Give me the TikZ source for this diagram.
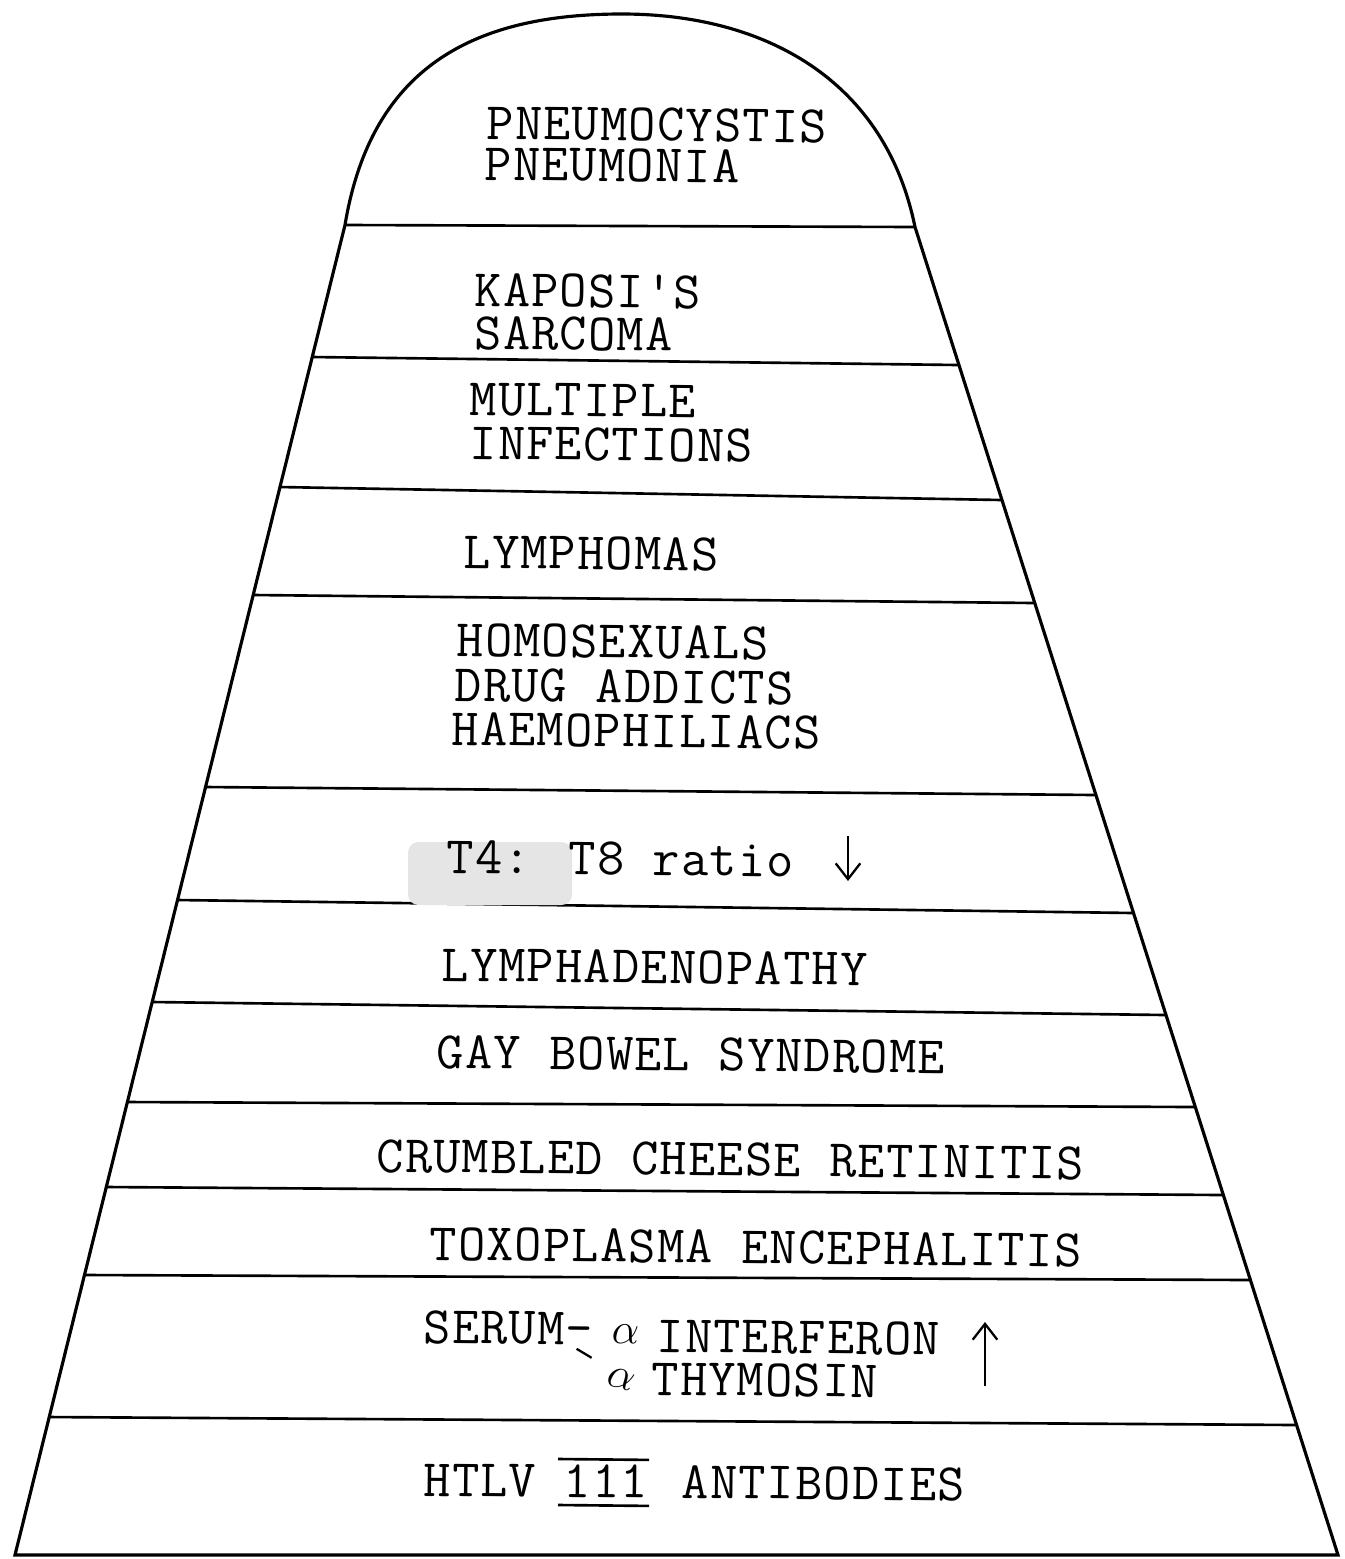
\documentclass[tikz,border=0pt]{standalone}
\usepackage{fontspec}
\newfontfamily\typewriter{Latin Modern Mono}[LetterSpace=2.5]
\usetikzlibrary{arrows.meta,calc}

\begin{document}
\begin{tikzpicture}[x=0.02cm, y=-0.02cm, line width=1.8pt,
  rowtext/.style={anchor=base west, inner sep=0pt, rotate=-0.6,
    font=\typewriter\fontsize{30}{30}\selectfont},
  divider/.style={line width=1.5pt},
  trend/.style={-{Straight Barb[length=9pt,width=14pt]}, line width=1.3pt}]

\useasboundingbox (0,0) rectangle (1345,1559);

% outline
\coordinate (bl) at (15,1555);
\coordinate (br) at (1338,1555);
\coordinate (tl) at (345,225);
\coordinate (tr) at (915,227);
\draw (bl) -- (tl) .. controls (372,62) and (480,14) .. (622,14)
  .. controls (765,14) and (885,80) .. (tr) -- (br) -- cycle;

% dividers
\draw[divider] (tl) -- (tr);
\foreach \yl/\yr in {357/365, 487/500, 595/603, 787/795, 900/913,
  1002/1015, 1102/1107, 1187/1195, 1275/1280, 1417/1425}
  \draw[divider] ($(bl)!{(1555-\yl)/1330}!(tl)$) -- ($(br)!{(1555-\yr)/1328}!(tr)$);

% grey patch left on the scan
\draw[fill=black!10, draw=none, rounded corners=6pt] (408,842) rectangle (572,905);

% rows
\node[rowtext] (pneumo) at (485,139) {PNEUMOCYSTIS};
\node[rowtext] (pneumonia) at (483,180) {PNEUMONIA};

\node[rowtext] (kaposi) at (473,306) {KAPOSI'S};
\node[rowtext] (sarcoma) at (473,349) {SARCOMA};

\node[rowtext] (multiple) at (468,415) {MULTIPLE};
\node[rowtext] (infections) at (468,459) {INFECTIONS};

\node[rowtext] (lymphomas) at (462,568) {LYMPHOMAS};

\node[rowtext] (homosex) at (455,656) {HOMOSEXUALS};
\node[rowtext] (addicts) at (453,701) {DRUG ADDICTS};
\node[rowtext] (haemo) at (450,745) {HAEMOPHILIACS};

\node[rowtext] (ratio) at (445,873) {T4: T8 ratio};
\coordinate (fall top) at (848,836);
\coordinate (fall end) at (848,881);
\draw[trend] (fall top) -- (fall end);

\node[rowtext] (lymphaden) at (440,981) {LYMPHADENOPATHY};
\node[rowtext] (gaybowel) at (435,1068) {GAY BOWEL SYNDROME};
\node[rowtext] (retinitis) at (375,1172) {CRUMBLED CHEESE RETINITIS};
\node[rowtext] (toxo) at (428,1260) {TOXOPLASMA ENCEPHALITIS};

% serum row
\node[rowtext] (serum) at (422,1343) {SERUM-};
\draw[line width=1.3pt] ($(serum.base east)+(-18,4)$) -- ++(15,9);
\node[rowtext, font=\fontsize{30}{30}\selectfont] (alphaone) at (610,1343) {$\alpha$};
\node[rowtext] (interferon) at (655,1352) {INTERFERON};
\node[rowtext, rotate=-15, font=\fontsize{30}{30}\selectfont] (alphatwo) at (604,1384) {$\alpha$};
\node[rowtext] (thymosin) at (650,1395) {THYMOSIN};
\coordinate (rise foot) at (985,1386);
\coordinate (rise top) at (985,1322);
\draw[trend] (rise foot) -- (rise top);

% antibodies row
\node[rowtext] (htlv) at (422,1496) {HTLV};
\node[rowtext] (strain) at (562,1497) {111};
\node[rowtext] (antibodies) at (680,1498) {ANTIBODIES};
\draw[divider] ($(strain.base west)+(-4,-38)$) -- ($(strain.base east)+(0,-38)$);
\draw[divider] ($(strain.base west)+(-4,8)$) -- ($(strain.base east)+(0,8)$);
\end{tikzpicture}
\end{document}
